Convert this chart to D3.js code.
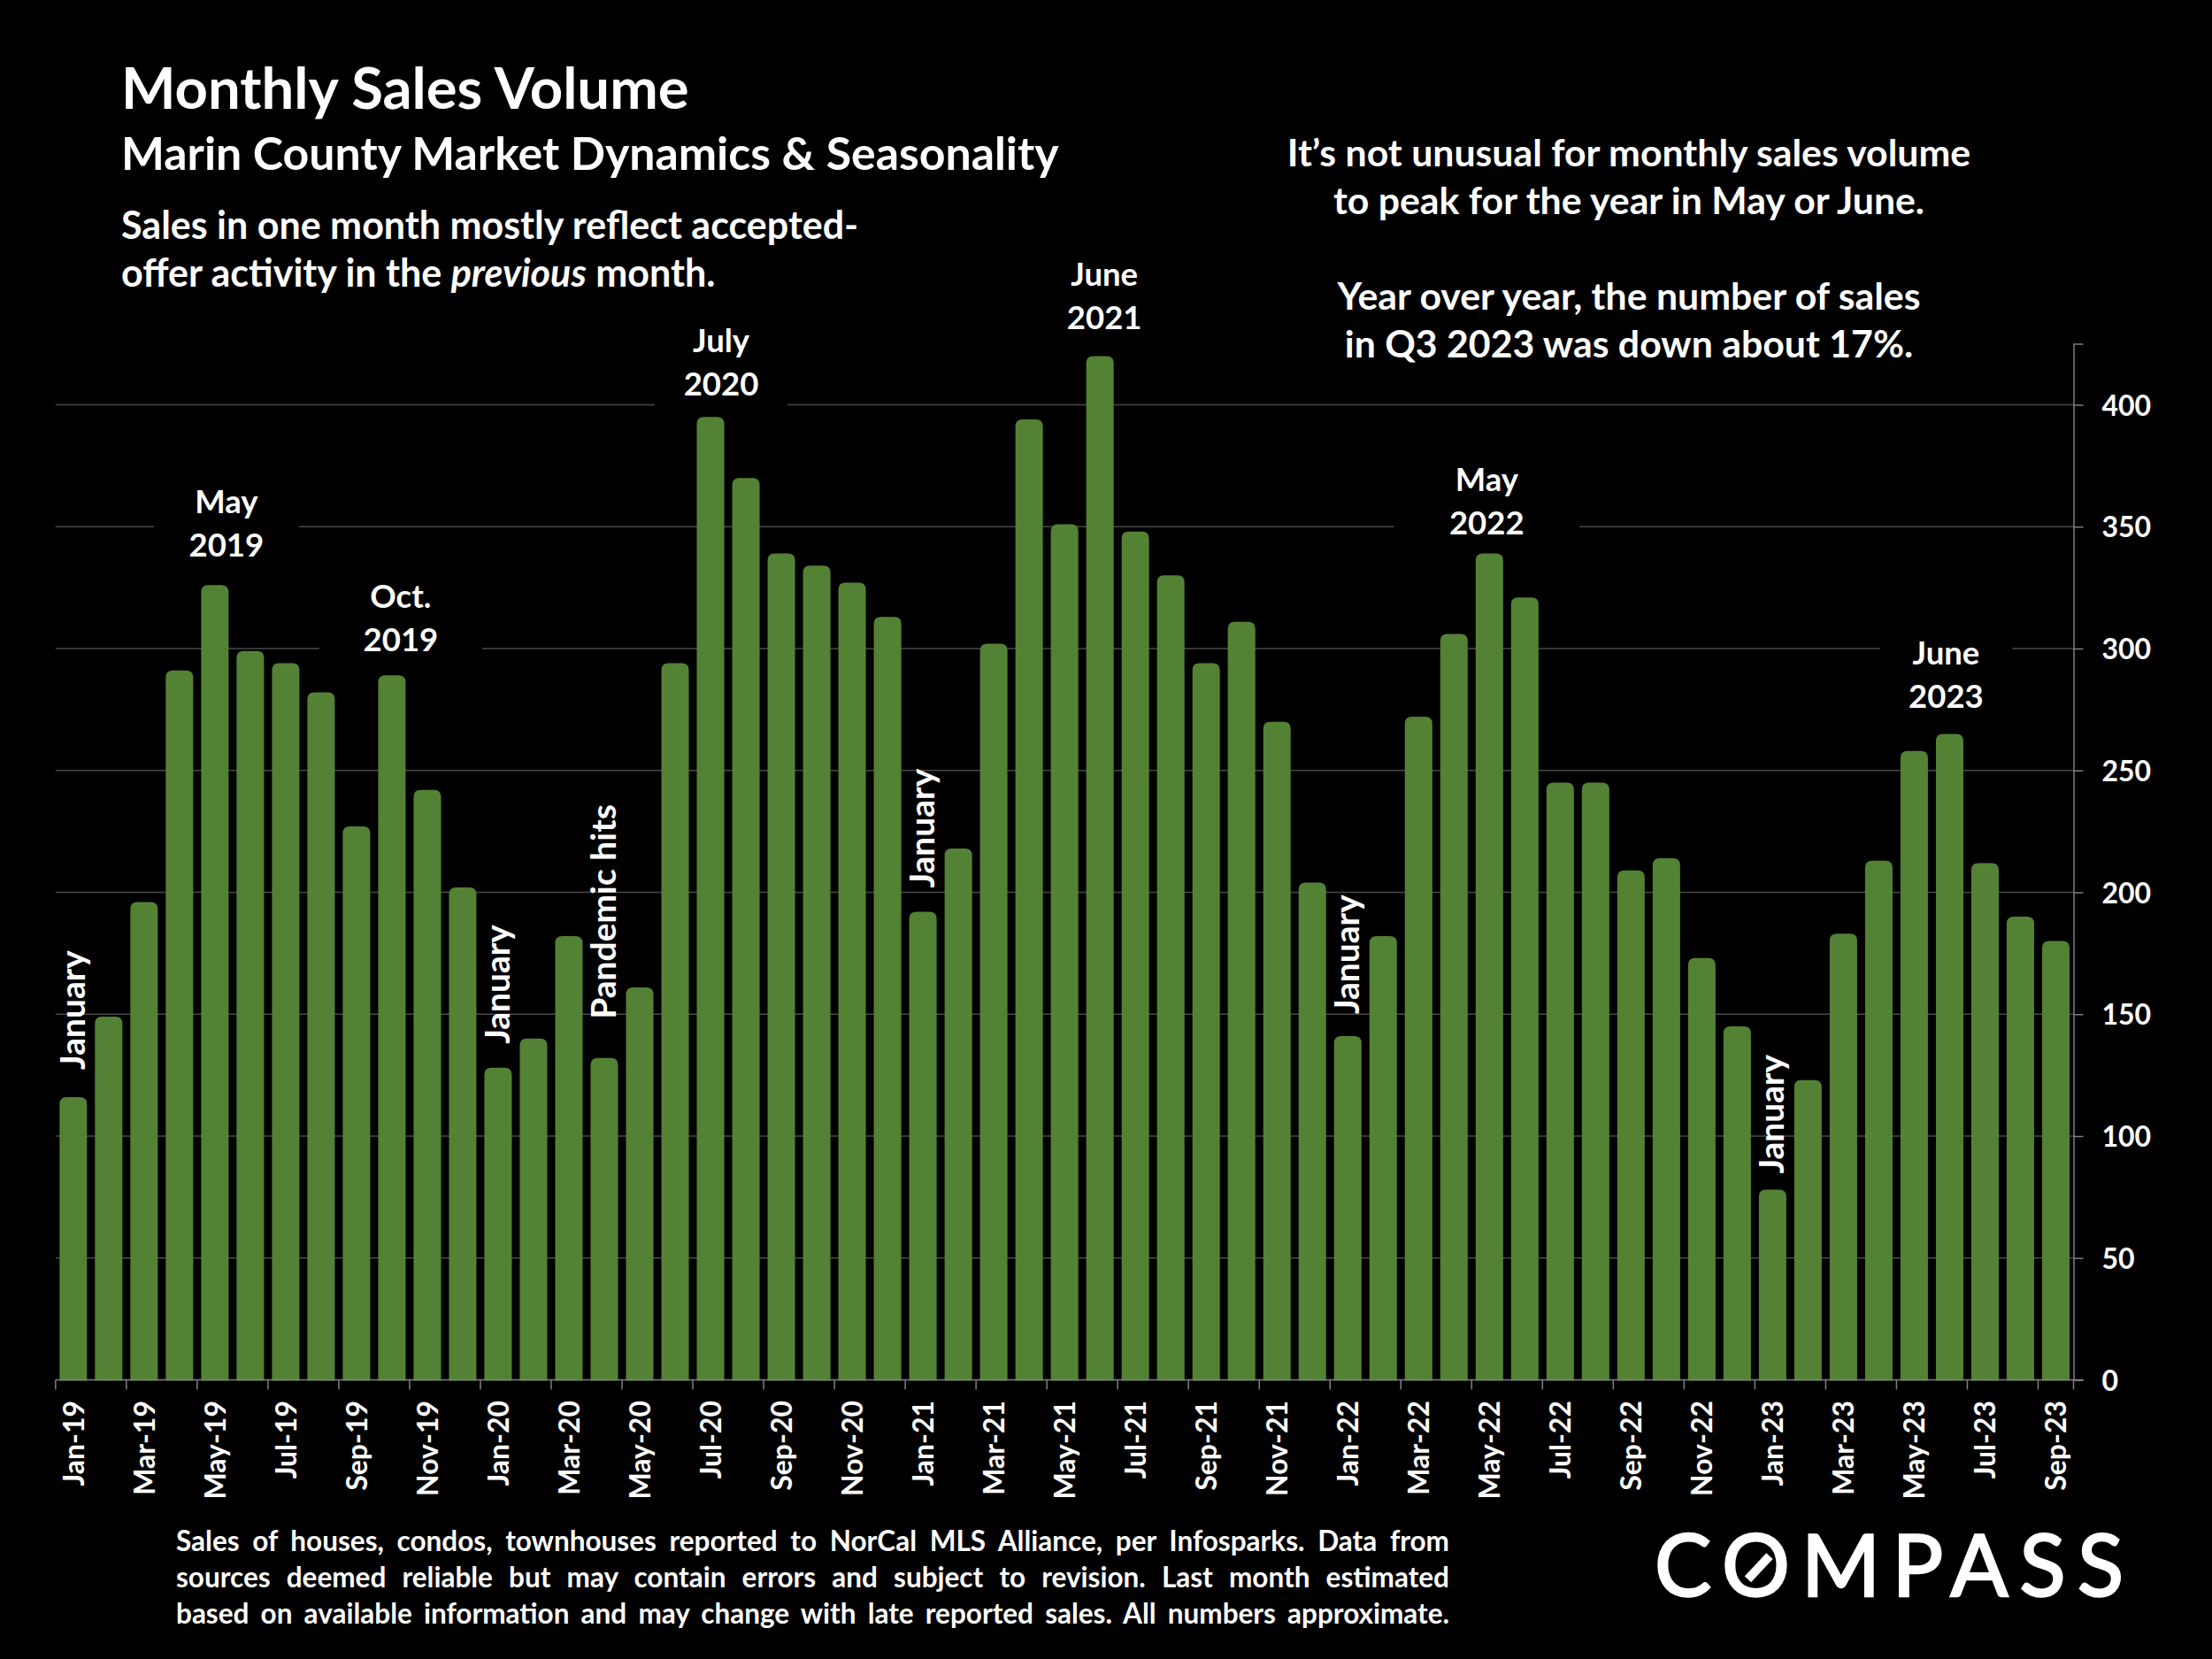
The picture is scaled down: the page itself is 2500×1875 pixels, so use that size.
<!DOCTYPE html>
<html>
<head>
<meta charset="utf-8">
<script src="https://cdnjs.cloudflare.com/ajax/libs/d3/7.8.5/d3.min.js"></script>
<style>
	html, body { margin: 0; padding: 0; background: #000; }
	svg { display: block; }
	text { font-family: Lato, "Open Sans", sans-serif; font-weight: 700; fill: #fff; }
</style>
</head>
<body>
<div id="chart"></div>
<script>
var months = ["Jan-19","Feb-19","Mar-19","Apr-19","May-19","Jun-19","Jul-19","Aug-19","Sep-19","Oct-19","Nov-19","Dec-19",
	"Jan-20","Feb-20","Mar-20","Apr-20","May-20","Jun-20","Jul-20","Aug-20","Sep-20","Oct-20","Nov-20","Dec-20",
	"Jan-21","Feb-21","Mar-21","Apr-21","May-21","Jun-21","Jul-21","Aug-21","Sep-21","Oct-21","Nov-21","Dec-21",
	"Jan-22","Feb-22","Mar-22","Apr-22","May-22","Jun-22","Jul-22","Aug-22","Sep-22","Oct-22","Nov-22","Dec-22",
	"Jan-23","Feb-23","Mar-23","Apr-23","May-23","Jun-23","Jul-23","Aug-23","Sep-23"];
var sales = [116,149,196,291,326,299,294,282,227,289,242,202,
	128,140,182,132,161,294,395,370,339,334,327,313,
	192,218,302,394,351,420,348,330,294,311,270,204,
	141,182,272,306,339,321,245,245,209,214,173,145,
	78,123,183,213,258,265,212,190,180];
var yTicks = [0,50,100,150,200,250,300,350,400];

var peakMonths = ["May-19","Oct-19","Jul-20","Jun-21","May-22","Jun-23"];
var peakLabels = [["May","2019"],["Oct.","2019"],["July","2020"],["June","2021"],["May","2022"],["June","2023"]];
var sideMonths = ["Jan-19","Jan-20","Apr-20","Jan-21","Jan-22","Jan-23"];
var sideLabels = ["January","January","Pandemic hits","January","January","January"];

var titleText = "Monthly Sales Volume";
var subtitleText = "Marin County Market Dynamics & Seasonality";
var noteLines = ["It’s not unusual for monthly sales volume","to peak for the year in May or June.","",
	"Year over year, the number of sales","in Q3 2023 was down about 17%."];
var footLines = ["Sales of houses, condos, townhouses reported to NorCal MLS Alliance, per Infosparks. Data from",
	"sources deemed reliable but may contain errors and subject to revision. Last month estimated",
	"based on available information and may change with late reported sales. All numbers approximate."];

var W = 2500, H = 1875;
var svg = d3.select("#chart").append("svg").attr("width", W).attr("height", H);
svg.append("rect").attr("width", W).attr("height", H).attr("fill", "#000");

var x = d3.scaleBand().domain(months).range([62.8, 2343.5]).paddingInner(0.225).paddingOuter(0.1125);
var y = d3.scaleLinear().domain([0, 425]).range([1559.5, 388.6]);
var left = function (m) { return x(m) - x.step() * x.paddingInner() / 2; };

// grid lines run behind everything, label boxes cut them
svg.append("g").selectAll("line").data(yTicks.filter(d => d > 0)).enter().append("line")
	.attr("x1", 62.8).attr("x2", 2343.5)
	.attr("y1", d => y(d)).attr("y2", d => y(d))
	.attr("stroke", "#484848").attr("stroke-width", 1.5);

// per label tweaks: shift from bar centre, gap above bar, half width of the box
var peakDx = [13, 10, 12, 5, -3, -4];
var peakGap = [32, 27, 24, 30, 22, 29];
var peakBox = [82, 92, 75, 0, 105, 75];
var sideGap = [31, 27, 44, 27, 25, 18];

peakMonths.forEach(function (m, i) {
	if (!peakBox[i]) return;
	var cx = x(m) + x.bandwidth() / 2 + peakDx[i];
	var base = y(sales[months.indexOf(m)]) - peakGap[i];
	svg.append("rect")
		.attr("x", cx - peakBox[i]).attr("width", peakBox[i] * 2)
		.attr("y", base - 85).attr("height", 100)
		.attr("fill", "#000");
});

// bars, rounded on top only
var barPath = function (d, i) {
	var r = 8, x0 = x(months[i]), x1 = x0 + x.bandwidth(), top = y(d), bottom = y(0) + 1;
	return "M" + x0 + "," + bottom + "V" + (top + r) + "Q" + x0 + "," + top + " " + (x0 + r) + "," + top +
		"H" + (x1 - r) + "Q" + x1 + "," + top + " " + x1 + "," + (top + r) + "V" + bottom + "Z";
};
svg.append("g").selectAll("path").data(sales).enter().append("path")
	.attr("d", barPath)
	.attr("fill", "#548235");

// y axis on the right
var yAxis = d3.axisRight(y).tickValues(yTicks).tickSize(11).tickPadding(21);
var gy = svg.append("g").attr("transform", "translate(2343.5,0)").call(yAxis);
gy.selectAll("path,line").attr("stroke", "#7f7f7f").attr("stroke-width", 1.5);
gy.selectAll("text").style("font-size", "32px").attr("dy", "0.36em");

// x axis: a tick on the left edge of every other band, label over that band
var tickMonths = months.filter((d, i) => i % 2 == 0);
var gx = svg.append("g");
gx.append("line").attr("x1", 62.8).attr("x2", 2354.6).attr("y1", y(0)).attr("y2", y(0))
	.attr("stroke", "#7f7f7f").attr("stroke-width", 1.5);
gx.selectAll("line.tick").data(tickMonths.concat(["end"])).enter().append("line")
	.attr("class", "tick")
	.attr("x1", d => d == "end" ? 2343.5 : left(d)).attr("x2", d => d == "end" ? 2343.5 : left(d))
	.attr("y1", y(0)).attr("y2", y(0) + 11)
	.attr("stroke", "#7f7f7f").attr("stroke-width", 1.5);
gx.selectAll("text").data(tickMonths).enter().append("text")
	.attr("transform", d => "translate(" + (x(d) + x.bandwidth() / 2 + 12) + ",1583) rotate(-90)")
	.attr("text-anchor", "end")
	.style("font-size", "32px")
	.text(d => d);

// annotations
peakMonths.forEach(function (m, i) {
	var cx = x(m) + x.bandwidth() / 2 + peakDx[i];
	var base = y(sales[months.indexOf(m)]) - peakGap[i];
	peakLabels[i].forEach(function (t, j) {
		svg.append("text").attr("x", cx).attr("y", base - (1 - j) * 49)
			.attr("text-anchor", "middle").style("font-size", "36.5px").text(t);
	});
});
sideMonths.forEach(function (m, i) {
	var cx = x(m) + x.bandwidth() / 2;
	var base = y(sales[months.indexOf(m)]) - sideGap[i];
	svg.append("text")
		.attr("transform", "translate(" + (cx + 13) + "," + base + ") rotate(-90)")
		.style("font-size", "39px").text(sideLabels[i]);
});

// headings
svg.append("text").attr("x", 137).attr("y", 123).style("font-size", "65.2px").text(titleText);
svg.append("text").attr("x", 137).attr("y", 192).style("font-size", "51.8px").text(subtitleText);
svg.append("text").attr("x", 137).attr("y", 270).style("font-size", "43px")
	.text("Sales in one month mostly reflect accepted-");
var intro2 = svg.append("text").attr("x", 137).attr("y", 324).style("font-size", "43px");
intro2.append("tspan").text("offer activity in the ");
intro2.append("tspan").attr("font-style", "italic").text("previous");
intro2.append("tspan").text(" month.");

noteLines.forEach(function (t, i) {
	svg.append("text").attr("x", 1841).attr("y", 188 + i * 54)
		.attr("text-anchor", "middle").style("font-size", "42.8px").text(t);
});

// footnote is justified, so stretch the word gaps to fill the width
footLines.forEach(function (t, i) {
	var line = svg.append("text").attr("x", 199).attr("y", 1753 + i * 41).style("font-size", "31.5px").text(t);
	var gaps = t.split(" ").length - 1;
	line.style("word-spacing", (1439 - line.node().getComputedTextLength()) / gaps + "px");
});

// logo
svg.append("text").attr("x", 1870).attr("y", 1804)
	.attr("textLength", 530).attr("lengthAdjust", "spacing")
	.style("font-size", "96px").style("font-weight", "400")
	.attr("stroke", "#fff").attr("stroke-width", 2.5)
	.text("COMPASS");
svg.append("rect").attr("x", 1982.7).attr("y", 1753.7).attr("width", 10).attr("height", 36)
	.attr("transform", "rotate(43 1987.7 1771.7)").attr("fill", "#fff");
</script>
</body>
</html>
